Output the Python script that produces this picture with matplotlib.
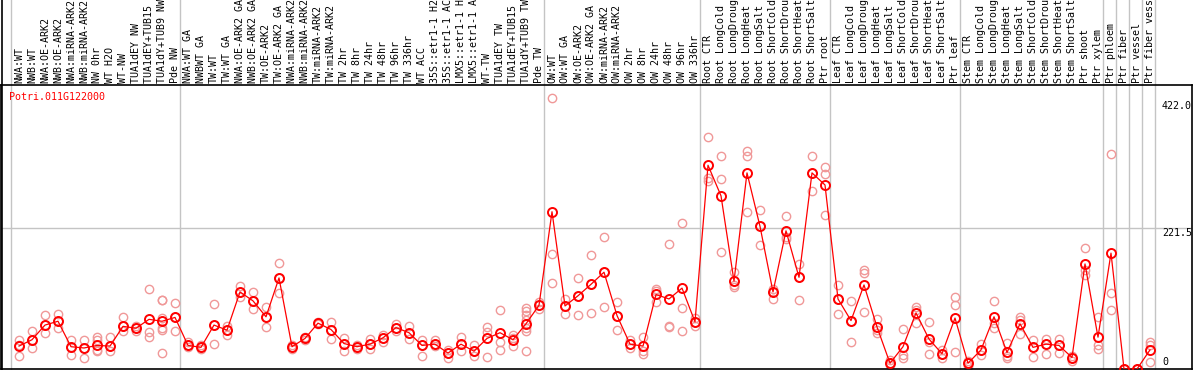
import matplotlib
matplotlib.use("Agg")
import matplotlib.pyplot as plt
from matplotlib.transforms import blended_transform_factory
from matplotlib.lines import Line2D

gene = "Potri.011G122000"

samples = [
    "NWA:WT", "NWB:WT", "NWA:OE-ARK2", "NWB:OE-ARK2", "NWA:miRNA-ARK2", "NWB:miRNA-ARK2",
    "NW 0hr", "WT H2O", "WT-NW", "TUA1dEY NW", "TUA1dEY+TUB15 NW", "TUA1dY+TUB9 NW", "Pde NW",
    "NWA:WT GA", "NWBWT GA", "TW:WT", "TW:WT GA", "NWA:OE-ARK2 GA", "NWB:OE-ARK2 GA",
    "TW:OE-ARK2", "TW:OE-ARK2 GA", "NWA:miRNA-ARK2 GA", "NWB:miRNA-ARK2 GA", "TW:miRNA-ARK2",
    "TW:miRNA-ARK2 GA", "TW 2hr", "TW 8hr", "TW 24hr", "TW 48hr", "TW 96hr", "TW 336hr", "WT ACC",
    "35S::etr1-1 H2O", "35S::etr1-1 ACC", "LMX5::etr1-1 H2O", "LMX5::etr1-1 ACC", "WT-TW",
    "TUA1dEY TW", "TUA1dEY+TUB15 TW", "TUA1dY+TUB9 TW", "Pde TW",
    "OW:WT", "OW:WT GA", "OW:OE-ARK2", "OW:OE-ARK2 GA", "OW:miRNA-ARK2", "OW:miRNA-ARK2 GA",
    "OW 2hr", "OW 8hr", "OW 24hr", "OW 48hr", "OW 96hr", "OW 336hr",
    "Root CTR", "Root LongCold", "Root LongDrought", "Root LongHeat", "Root LongSalt",
    "Root ShortCold", "Root ShortDrought", "Root ShortHeat", "Root ShortSalt", "Ptr root",
    "Leaf CTR", "Leaf LongCold", "Leaf LongDrought", "Leaf LongHeat", "Leaf LongSalt",
    "Leaf ShortCold", "Leaf ShortDrought", "Leaf ShortHeat", "Leaf ShortSalt", "Ptr leaf",
    "Stem CTR", "Stem LongCold", "Stem LongDrought", "Stem LongHeat", "Stem LongSalt",
    "Stem ShortCold", "Stem ShortDrought", "Stem ShortHeat", "Stem ShortSalt", "Ptr shoot",
    "Ptr xylem", "Ptr phloem", "Ptr fiber", "Ptr vessel", "Ptr fiber vessel",
]

means = [
    36, 46, 69, 75, 35, 33, 37, 36, 67, 64, 78, 75, 81,
    37, 34, 69, 61, 121, 107, 82, 143, 35, 48, 72, 62, 40, 35, 39, 49, 65, 57, 37,
    39, 25, 39, 28, 48, 57, 46, 71, 100,
    247, 99, 115, 133, 152, 84, 39, 36, 117, 110, 127, 74,
    320, 272, 138, 308, 224, 121, 217, 144, 308, 289,
    110, 76, 132, 66, 9, 35, 88, 47, 24, 80,
    9, 30, 82, 26, 71, 34, 39, 37, 18, 165, 50,
    182, 0, 0, 30,
]

reps = [
    [45, 38, 21], [60, 46, 33], [85, 69, 57], [87, 75, 64], [46, 35, 22], [46, 33, 17],
    [50, 45, 30, 28], [50, 36, 28], [82, 67, 59], [68, 64, 60], [125, 58, 50],
    [109, 108, 80, 64, 62, 25], [104, 81, 60],
    [42, 37, 35], [37, 34, 31], [102, 69, 39], [67, 61, 53], [130, 121, 113], [121, 107, 94],
    [98, 82, 66], [166, 143, 119], [38, 35, 32], [51, 48, 45], [74, 72, 70], [74, 62, 47],
    [49, 40, 29], [38, 35, 31], [47, 39, 32], [53, 49, 43], [71, 65, 59], [67, 57, 47],
    [46, 37, 21], [45, 39, 36], [30, 25, 17], [50, 39, 29], [37, 28, 21], [66, 58, 19],
    [93, 43, 30], [53, 49, 36], [96, 91, 85, 77, 64, 59, 29], [106, 100, 95],
    [425, 181, 135], [110, 99, 87], [143, 115, 85], [179, 133, 88], [207, 152, 98],
    [106, 84, 62], [46, 39, 33], [51, 28, 24], [126, 122, 106], [197, 68, 66],
    [229, 96, 60], [80, 74, 67],
    [364, 300, 295], [335, 298, 184], [153, 132, 129], [343, 335, 247], [250, 224, 195],
    [126, 121, 110], [241, 208, 204], [165, 144, 109], [335, 308, 279], [317, 307, 242],
    [132, 110, 87], [107, 76, 42], [156, 151, 90], [78, 61, 57], [14, 9, 6],
    [63, 22, 18], [97, 93, 72], [74, 42, 24], [30, 24, 17], [113, 100, 27],
    [12, 9, 5], [40, 30, 22], [107, 72, 64], [41, 21, 18], [82, 77, 55],
    [45, 34, 19], [47, 39, 24], [47, 37, 25], [21, 18, 12], [190, 156, 148],
    [82, 37, 31], [338, 119, 92], [0, 0, 0], [0, 0, 0], [42, 38, 11],
]

# group separators (between samples)
separators = [-0.65, 12.4, 40.4, 52.4, 62.4, 72.4, 83.4, 84.4, 85.4, 86.4, 87.4]

y_ticks = [0, 221.5, 422.0]
y_tick_labels = ["0", "221.5", "422.0"]

W, H = 1194, 370
fig = plt.figure(figsize=(W / 100, H / 100), dpi=100)
ax_left, ax_right, ax_top, ax_bot = 1, 1192, 85, 369
ax = fig.add_axes([ax_left / W, 1 - ax_bot / H, (ax_right - ax_left) / W, (ax_bot - ax_top) / H])

x = list(range(len(samples)))
ax.set_xlim((ax_left - 19) / 13, (ax_right - 19) / 13)
ax.set_ylim(0, 446)
ax.set_xticks([])
ax.set_yticks([])
for s in ax.spines.values():
    s.set_color("black")
    s.set_linewidth(1.2)

gray = "#c4c4c4"
ext = 1 + ax_top / (ax_bot - ax_top)
for b in separators:
    ax.axvline(b, ymin=0, ymax=ext, color=gray, lw=1.0, clip_on=False, zorder=1)
ax.axhline(y_ticks[1], color=gray, lw=1.0, zorder=1)

# left border through the label area
fig.add_artist(Line2D([1.5 / W, 1.5 / W], [0, 1], color="black", lw=1.2))

# replicates
for i, r in enumerate(reps):
    ax.plot([i] * len(r), r, linestyle="none", marker="o", ms=6, mfc="none",
            mec="#f09898", mew=1.0, zorder=2)

ax.plot(x, means, color="red", lw=0.9, zorder=3)
ax.plot(x, means, linestyle="none", marker="o", ms=6.5, mfc="none", mec="red",
        mew=1.4, zorder=4)

mono = "DejaVu Sans Mono"
xt = ax.get_xaxis_transform()
for i, name in enumerate(samples):
    ax.text(i, 1 + 2 / (ax_bot - ax_top), name, transform=xt, rotation=90,
            ha="center", va="bottom", fontsize=7.2, family=mono, clip_on=False)

ax.text(8.5 / (ax_right - ax_left), 1 - 12 / (ax_bot - ax_top), gene, transform=ax.transAxes,
        color="red", fontsize=7.2, family=mono, ha="left", va="center")

yt = blended_transform_factory(ax.transAxes, ax.transData)
offsets = [7, -5, -6]
for v, lab, off in zip(y_ticks, y_tick_labels, offsets):
    ax.annotate(lab, xy=(1161 / (ax_right - ax_left), v), xycoords=yt,
                xytext=(0, off), textcoords="offset pixels", ha="left", va="center",
                fontsize=7.2, family=mono, color="black")

fig.savefig("out.png", dpi=100)
